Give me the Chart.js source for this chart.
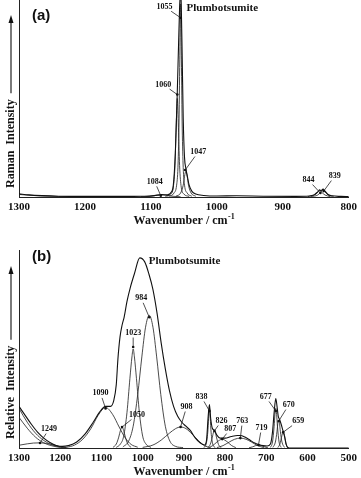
<!DOCTYPE html>
<html>
<head>
<meta charset="utf-8">
<script src="https://cdn.jsdelivr.net/npm/chart.js@4.4.1/dist/chart.umd.min.js"></script>
<style>
  body { margin: 0; background: #fff; }
  .panel { position: absolute; left: 0; width: 361px; }
  #pa { top: 0; height: 232px; }
  #pb { top: 232px; height: 246px; }
</style>
</head>
<body>
<div class="panel" id="pa"><canvas id="chart-a" width="361" height="232"></canvas></div>
<div class="panel" id="pb"><canvas id="chart-b" width="361" height="246"></canvas></div>
<script>
// ---- Panel (a): Raman spectrum 1300-800 cm-1 ----
const aTicks = [1300, 1200, 1100, 1000, 900, 800];
const aEnvWn = [1300,1285,1265,1240,1200,1150,1110,1095,1084,1075,1069,1066,1063,1061,1060,1058,1056.5,1055,1054,1052.5,1051,1049,1047,1045,1042,1038,1032,1020,1000,970,930,880,860,852,847,844,842,839,836,832,825,812,800];
const aEnvInt = [1.6,1.1,0.7,0.4,0.3,0.3,0.4,0.7,1.2,1.1,2.5,6,22,42,53,78,96,105,98,70,40,20,14.5,11,6,3,1.5,0.8,0.5,0.6,0.4,0.3,0.5,1.2,2.6,3.6,3.2,4,3,1.4,0.6,0.3,0.2];
const a1300Wn = [1300,1285,1265,1240,1210,1180];
const a1300Int = [1.3,0.9,0.5,0.25,0.1,0];
const a1084Wn = [1115,1100,1090,1084,1078,1068,1055];
const a1084Int = [0.1,0.4,0.9,1.1,0.9,0.4,0.1];
const a1060Wn = [1078,1070,1066,1063.5,1061.5,1060,1058.5,1056.5,1054,1050,1042];
const a1060Int = [0.3,1.5,5,16,38,50,38,16,5,1.5,0.3];
const a1055Wn = [1072,1065,1061,1059,1057.5,1056.2,1055,1053.8,1052.5,1051,1049,1045,1038];
const a1055Int = [0.4,2,6,15,35,70,98,70,35,15,6,2,0.4];
const a1047Wn = [1062,1055,1051,1049,1047,1045,1043,1039,1032];
const a1047Int = [0.4,2,6,10.5,13,10.5,6,2,0.4];
const a844Wn = [862,852,847,844,841,836,828];
const a844Int = [0.2,1,2.4,3.2,2.4,1,0.2];
const a839Wn = [857,847,842,839,836,831,823];
const a839Int = [0.2,1,2.6,3.5,2.6,1,0.2];
const aNoteLabels = ['1055','1060','1047','1084','844','839'];
const aNoteWn = [1055, 1060, 1048, 1085, 843, 838];
const aNoteInt = [91, 52, 13.7, 0.6, 2, 3];

// ---- Panel (b): band fitting 1300-500 cm-1 ----
const bTicks = [1300, 1200, 1100, 1000, 900, 800, 700, 600, 500];
const bEnvWn = [1300,1285,1270,1255,1240,1225,1210,1195,1180,1160,1140,1120,1105,1090,1078,1070,1064,1060,1055,1050,1045,1038,1030,1020,1007,995,985,975,965,955,945,935,925,915,905,895,885,872,860,850,845,841,838,835,831,826,820,812,800,785,770,763,752,740,728,719,708,698,690,685,681,677,674,671,668,664,660,656,652,648,640,600,500];
const bEnvInt = [21,16.5,12,8,5,2.8,1.3,0.8,1.2,3,7,13,18,21,21,24,32,45,56,62,66,74,81,88,96,94,88,80,68,53,40,29,21,16,13,11,9,5,2.5,1.5,4,16,22,15,10,9,6.5,5,5,5.8,6.3,6.3,5.5,4,2.5,1.8,1.2,1,2,8,18,25,21,16,14.5,12,9,6,2,0.3,0,0,0];
const bL1Wn = [1300,1280,1260,1240,1220,1200,1185];
const bL1Int = [20,13,7.5,3.8,1.6,0.5,0.1];
const bL2Wn = [1300,1280,1260,1240,1220,1200,1185];
const bL2Int = [15.5,10,5.5,2.6,1.1,0.3,0.05];
const b1249Wn = [1300,1280,1265,1249,1233,1215,1200,1185];
const b1249Int = [1.4,2.1,2.5,2.6,2.3,1.5,0.7,0.2];
const b1090Wn = [1185,1165,1145,1125,1108,1090,1073,1057,1042,1028,1012];
const b1090Int = [0.3,1.5,4.5,10,16.5,20.5,17,10.6,5,1.8,0.4];
const b1050Wn = [1072,1064,1058,1054,1050,1046,1042,1036,1028];
const b1050Int = [0.3,2,5.5,8.8,10.6,8.8,5.5,2,0.3];
const b1023Wn = [1064,1054,1046,1038,1031,1026,1023,1020,1015,1008,1000,992,980];
const b1023Int = [0.3,2,6,18,35,46,50,46,35,18,6,2,0.3];
const b984Wn = [1048,1034,1023,1012,1002,993,984,975,966,956,945,934,920,902];
const b984Int = [0.5,3.5,11,27,46,61,67,61,46,27,11,3.5,0.8,0.2];
const b908Wn = [1000,975,955,935,920,908,895,880,865,850,835];
const b908Int = [0.3,1.5,4,7.5,9.8,10.6,9.8,7,3.8,1.2,0.2];
const b838Wn = [852,846,842,840,838,836,834,830,824];
const b838Int = [0.2,2,8,15,20,15,8,2,0.2];
const b826Wn = [842,836,831,828,826,824,821,816,810];
const b826Int = [0.2,1.8,5.5,8,8.6,8,5.5,1.8,0.2];
const b807Wn = [840,830,820,813,807,801,794,784,774];
const b807Int = [0.2,1.2,3,4,4.5,4,3,1.2,0.2];
const b763Wn = [820,805,790,777,763,749,736,721,706];
const b763Int = [0.2,1.2,3,4.4,5,4.4,3,1.2,0.2];
const b719Wn = [742,733,726,719,712,705,696];
const b719Int = [0.1,0.6,1.2,1.5,1.2,0.6,0.1];
const b677Wn = [690,685,681,679,677,675,673,669,664];
const b677Int = [0.3,3,11,17,20,17,11,3,0.3];
const b670Wn = [684,678,674,672,670,668,666,662,656];
const b670Int = [0.3,3,8.5,12.5,14,12.5,8.5,3,0.3];
const b659Wn = [672,667,663,661,659,657,655,652,648];
const b659Int = [0.2,2,5.5,7.3,8,7.3,5.5,2,0.2];
const bNoteLabels = ['1249','1090','1050','1023','984','908','838','826','807','763','719','677','670','659'];
const bNoteWn = [1249, 1090, 1050, 1023, 984, 908, 838, 826, 807, 763, 719, 677, 670, 659];
const bNoteInt = [2.5, 20, 10.6, 51, 66, 10.6, 18.7, 8.6, 4.5, 5, 1.5, 18.7, 13.6, 8];

const SERIF = '"Liberation Serif", "Times New Roman", serif';

function toPoints(wn, val) {
  return wn.map((w, i) => ({ x: w, y: val[i] }));
}

function line(wn, val, main) {
  return {
    data: toPoints(wn, val),
    borderColor: main ? '#111' : '#2a2a2a',
    borderWidth: main ? 1.1 : 0.85,
    pointRadius: 0,
    cubicInterpolationMode: 'monotone',
    fill: false
  };
}

// draws panel letter, sample name, axis titles and band labels
const decor = {
  id: 'decor',
  afterDraw(chart, args, o) {
    const { ctx, chartArea: ca, scales: { x, y } } = chart;
    ctx.save();
    ctx.fillStyle = '#111';
    ctx.strokeStyle = '#222';

    ctx.font = 'bold 15px "Liberation Sans", Arial, sans-serif';
    ctx.textAlign = 'left';
    ctx.textBaseline = 'middle';
    ctx.fillText(o.letter, ca.left + 13, ca.top + o.letterDy);

    ctx.font = 'bold 11px ' + SERIF;
    ctx.fillText('Plumbotsumite', x.getPixelForValue(o.nameWn), ca.top + o.nameDy);

    // x title with superscript
    ctx.font = 'bold 12px ' + SERIF;
    const main = 'Wavenumber / cm';
    const mw = ctx.measureText(main).width;
    ctx.font = 'bold 8px ' + SERIF;
    const sw = ctx.measureText('-1').width;
    const x0 = (ca.left + ca.right) / 2 - (mw + sw) / 2;
    const ty = ca.bottom + 24;
    ctx.font = 'bold 12px ' + SERIF;
    ctx.fillText(main, x0, ty);
    ctx.font = 'bold 8px ' + SERIF;
    ctx.fillText('-1', x0 + mw + 0.5, ty - 4);

    // y title with arrow
    ctx.font = 'bold 12px ' + SERIF;
    const tw = ctx.measureText(o.yTitle).width;
    ctx.save();
    ctx.translate(11, ca.bottom - 9);
    ctx.rotate(-Math.PI / 2);
    ctx.fillText(o.yTitle, 0, 0);
    ctx.beginPath();
    ctx.lineWidth = 1.2;
    ctx.moveTo(tw + 6, 0);
    ctx.lineTo(169, 0);
    ctx.stroke();
    ctx.beginPath();
    ctx.moveTo(173, 0);
    ctx.lineTo(165, -2.5);
    ctx.lineTo(165, 2.5);
    ctx.closePath();
    ctx.fill();
    ctx.restore();

    // band labels with leader lines
    ctx.font = 'bold 8px ' + SERIF;
    ctx.textAlign = 'center';
    ctx.lineWidth = 0.8;
    o.labels.forEach((t, i) => {
      const mx = x.getPixelForValue(o.wn[i]);
      const my = y.getPixelForValue(o.val[i]);
      const cx = mx + o.off[i][0];
      const cy = my + o.off[i][1];
      ctx.fillText(t, cx, cy);
      const hw = ctx.measureText(t).width / 2 + 1;
      const vx = mx - cx, vy = my - cy;
      const k = Math.min(vx ? hw / Math.abs(vx) : 99, vy ? 4.5 / Math.abs(vy) : 99);
      ctx.beginPath();
      ctx.moveTo(cx + vx * k, cy + vy * k);
      ctx.lineTo(mx, my);
      ctx.stroke();
      ctx.beginPath();
      ctx.arc(mx, my, 1.3, 0, Math.PI * 2);
      ctx.fill();
    });
    ctx.restore();
  }
};

function makeOptions(min, max, ticks, padTop, axisH, deco) {
  return {
    responsive: false,
    animation: false,
    events: [],
    layout: { padding: { left: 19, right: 9, top: padTop, bottom: 0 }, autoPadding: false },
    plugins: { legend: { display: false }, tooltip: { enabled: false }, decor: deco },
    scales: {
      x: {
        type: 'linear',
        reverse: true,
        min: min,
        max: max,
        afterBuildTicks: s => { s.ticks = ticks.map(v => ({ value: v })); },
        afterFit: s => { s.height = axisH; },
        grid: { display: false, drawTicks: false },
        border: { display: true, color: '#222', width: 1 },
        ticks: {
          padding: 4,
          color: '#111',
          maxRotation: 0,
          font: { family: SERIF, size: 11, weight: 'bold' },
          callback: v => String(v)
        }
      },
      y: {
        min: 0,
        max: 100,
        afterFit: s => { s.width = 0; },
        grid: { display: false, drawTicks: false },
        border: { display: true, color: '#222', width: 1 },
        ticks: { display: false }
      }
    }
  };
}

const chartA = new Chart(document.getElementById('chart-a'), {
  type: 'line',
  data: {
    datasets: [
      line(aEnvWn, aEnvInt, true),
      line(a1300Wn, a1300Int),
      line(a1084Wn, a1084Int),
      line(a1060Wn, a1060Int),
      line(a1055Wn, a1055Int),
      line(a1047Wn, a1047Int),
      line(a844Wn, a844Int),
      line(a839Wn, a839Int)
    ]
  },
  options: makeOptions(800, 1300, aTicks, 0, 35, {
    letter: '(a)', letterDy: 16, nameWn: 1046, nameDy: 8,
    yTitle: 'Raman  Intensity',
    labels: aNoteLabels, wn: aNoteWn, val: aNoteInt,
    off: [[-16, -11], [-14, -10], [13, -18], [-6, -14], [-12, -13], [11, -15]]
  }),
  plugins: [decor]
});

const chartB = new Chart(document.getElementById('chart-b'), {
  type: 'line',
  data: {
    datasets: [
      line(bEnvWn, bEnvInt, true),
      line(bL1Wn, bL1Int),
      line(bL2Wn, bL2Int),
      line(b1249Wn, b1249Int),
      line(b1090Wn, b1090Int),
      line(b1050Wn, b1050Int),
      line(b1023Wn, b1023Int),
      line(b984Wn, b984Int),
      line(b908Wn, b908Int),
      line(b838Wn, b838Int),
      line(b826Wn, b826Int),
      line(b807Wn, b807Int),
      line(b763Wn, b763Int),
      line(b719Wn, b719Int),
      line(b677Wn, b677Int),
      line(b670Wn, b670Int),
      line(b659Wn, b659Int)
    ]
  },
  options: makeOptions(500, 1300, bTicks, 18, 30, {
    letter: '(b)', letterDy: 7, nameWn: 985, nameDy: 11,
    yTitle: 'Relative  Intensity',
    labels: bNoteLabels, wn: bNoteWn, val: bNoteInt,
    off: [[9, -14], [-5, -15], [15, -12], [0, -14], [-8, -19], [6, -20], [-8, -14], [7, -10], [8, -10], [2, -17], [3, -17], [-10, -14], [10, -16], [15, -11]]
  }),
  plugins: [decor]
});
</script>
</body>
</html>
